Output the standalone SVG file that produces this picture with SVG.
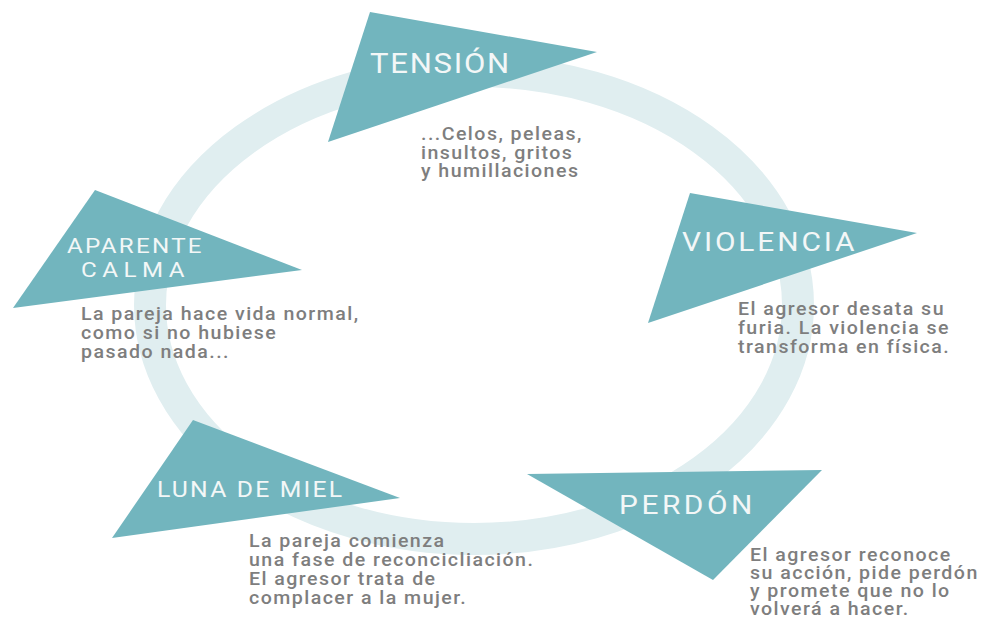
<svg xmlns="http://www.w3.org/2000/svg" width="992" height="626" viewBox="0 0 992 626">
  <style>
    .tri { fill: #72b5be; }
    .title { font-family: Roboto, "Liberation Sans", sans-serif; font-weight: 400; fill: #f3f7f7; }
    .desc { font-family: Roboto, "Liberation Sans", sans-serif; font-weight: 500; font-size: 17.5px; letter-spacing: 1.3px; fill: #7e7e7e; }
  </style>
  <rect width="992" height="626" fill="#ffffff"/>
  <g id="connectors">
    <ellipse cx="474" cy="305" rx="324" ry="234" fill="none" stroke="#e0eef0" stroke-width="32"/>
  </g>
  <g id="tension">
    <polygon class="tri" points="370,12 597,52 328,142"/>
    <g transform="translate(370,73) scale(1.15,1)">
      <text class="title" x="0" y="0" font-size="27" textLength="121" lengthAdjust="spacing">TENSIÓN</text>
    </g>
    <g transform="translate(421,0) scale(1.12,1)">
      <text class="desc" x="0" y="140">...Celos, peleas,</text>
      <text class="desc" x="0" y="159">insultos, gritos</text>
      <text class="desc" x="0" y="177">y humillaciones</text>
    </g>
  </g>
  <g id="violencia">
    <polygon class="tri" points="690,193 917,233 648,323"/>
    <g transform="translate(682,251) scale(1.15,1)">
      <text class="title" x="0" y="0" font-size="26" textLength="150" lengthAdjust="spacing">VIOLENCIA</text>
    </g>
    <g transform="translate(738,0) scale(1.12,1)">
      <text class="desc" x="0" y="315">El agresor desata su</text>
      <text class="desc" x="0" y="334">furia. La violencia se</text>
      <text class="desc" x="0" y="353">transforma en física.</text>
    </g>
  </g>
  <g id="perdon">
    <polygon class="tri" points="527,474 822,470 713,580"/>
    <g transform="translate(619,514) scale(1.15,1)">
      <text class="title" x="0" y="0" font-size="26" textLength="116" lengthAdjust="spacing">PERDÓN</text>
    </g>
    <g transform="translate(750,0) scale(1.12,1)">
      <text class="desc" x="0" y="561">El agresor reconoce</text>
      <text class="desc" x="0" y="579">su acción, pide perdón</text>
      <text class="desc" x="0" y="597">y promete que no lo</text>
      <text class="desc" x="0" y="615">volverá a hacer.</text>
    </g>
  </g>
  <g id="luna-de-miel">
    <polygon class="tri" points="193,420 400,498 112,538"/>
    <g transform="translate(157,497) scale(1.15,1)">
      <text class="title" x="0" y="0" font-size="21.5" textLength="161" lengthAdjust="spacing">LUNA DE MIEL</text>
    </g>
    <g transform="translate(249,0) scale(1.12,1)">
      <text class="desc" x="0" y="547">La pareja comienza</text>
      <text class="desc" x="0" y="566">una fase de reconcicliación.</text>
      <text class="desc" x="0" y="585">El agresor trata de</text>
      <text class="desc" x="0" y="604">complacer a la mujer.</text>
    </g>
  </g>
  <g id="aparente-calma">
    <polygon class="tri" points="95,190 302,270 13,308"/>
    <g transform="translate(67,253) scale(1.15,1)">
      <text class="title" x="0" y="0" font-size="21" textLength="117" lengthAdjust="spacing">APARENTE</text>
    </g>
    <g transform="translate(81,277) scale(1.15,1)">
      <text class="title" x="0" y="0" font-size="21" textLength="90" lengthAdjust="spacing">CALMA</text>
    </g>
    <g transform="translate(81,0) scale(1.12,1)">
      <text class="desc" x="0" y="320">La pareja hace vida normal,</text>
      <text class="desc" x="0" y="339">como si no hubiese</text>
      <text class="desc" x="0" y="358">pasado nada...</text>
    </g>
  </g>
</svg>
